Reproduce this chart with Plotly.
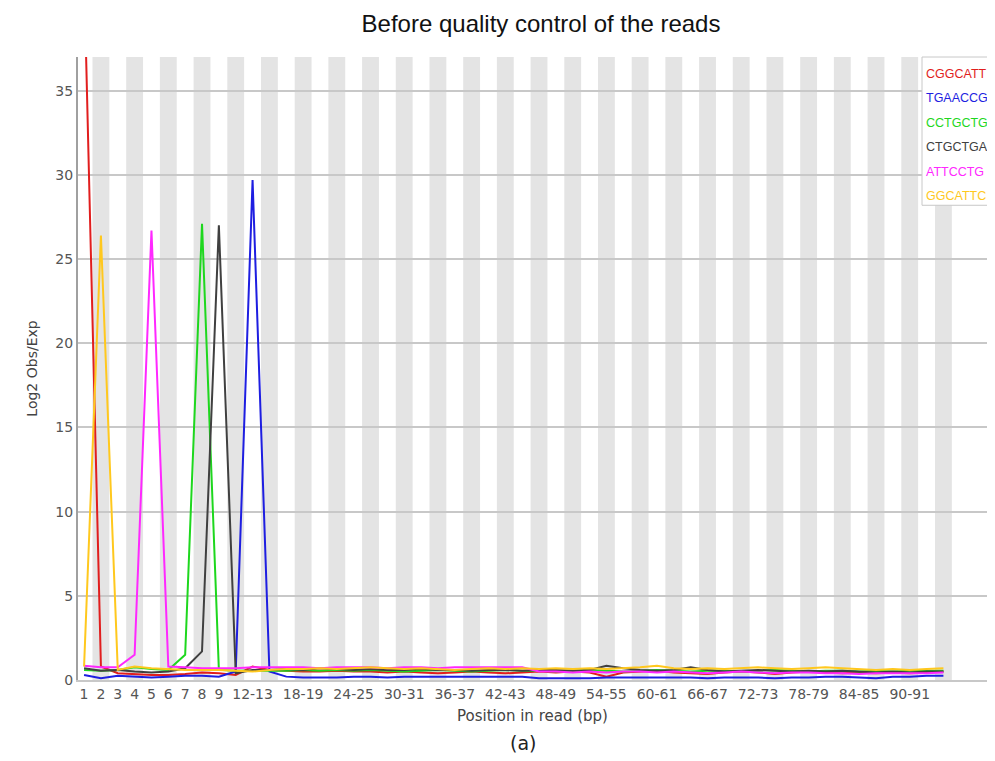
import plotly.graph_objects as go

# ---------------- data ----------------
positions = ["1", "2", "3", "4", "5", "6", "7", "8", "9"] + [f"{s}-{s+1}" for s in range(10, 96, 2)]

shown_ticks = ["1", "2", "3", "4", "5", "6", "7", "8", "9", "12-13", "18-19", "24-25", "30-31",
               "36-37", "42-43", "48-49", "54-55", "60-61", "66-67", "72-73", "78-79", "84-85", "90-91"]

kmer_names = ["CGGCATT", "TGAACCG", "CCTGCTG", "CTGCTGA", "ATTCCTG", "GGCATTC"]

cggcatt = [42.0, 0.8, 0.4, 0.35, 0.3, 0.3, 0.35, 0.45, 0.4, 0.3, 0.8, 0.6, 0.55, 0.5, 0.5, 0.55,
           0.5, 0.5, 0.45, 0.5, 0.45, 0.4, 0.45, 0.5, 0.45, 0.4, 0.45, 0.5, 0.45, 0.5, 0.45, 0.2,
           0.45, 0.5, 0.55, 0.45, 0.4, 0.35, 0.45, 0.5, 0.45, 0.35, 0.45, 0.5, 0.45, 0.4, 0.45, 0.4,
           0.45, 0.4, 0.45, 0.5]
tgaaccg = [0.3, 0.1, 0.25, 0.2, 0.15, 0.2, 0.25, 0.25, 0.2, 0.5, 29.7, 0.5, 0.2, 0.15, 0.15, 0.15,
           0.2, 0.2, 0.15, 0.2, 0.2, 0.2, 0.2, 0.2, 0.2, 0.2, 0.2, 0.1, 0.1, 0.1, 0.1, 0.15,
           0.15, 0.15, 0.15, 0.15, 0.15, 0.1, 0.15, 0.15, 0.15, 0.1, 0.15, 0.15, 0.2, 0.2, 0.15, 0.1,
           0.2, 0.2, 0.25, 0.25]
cctgctg = [0.6, 0.55, 0.6, 0.75, 0.65, 0.6, 1.5, 27.1, 0.6, 0.55, 0.55, 0.55, 0.55, 0.6, 0.55, 0.6,
           0.55, 0.6, 0.55, 0.5, 0.55, 0.6, 0.55, 0.5, 0.55, 0.6, 0.55, 0.55, 0.5, 0.55, 0.6, 0.55,
           0.5, 0.55, 0.6, 0.55, 0.5, 0.55, 0.55, 0.5, 0.55, 0.6, 0.55, 0.5, 0.55, 0.55, 0.5, 0.55,
           0.5, 0.55, 0.55, 0.55]
ctgctga = [0.7, 0.55, 0.6, 0.5, 0.45, 0.5, 0.7, 1.7, 27.0, 0.4, 0.6, 0.6, 0.65, 0.6, 0.7, 0.65,
           0.6, 0.65, 0.6, 0.6, 0.65, 0.6, 0.6, 0.55, 0.6, 0.6, 0.55, 0.6, 0.6, 0.55, 0.6, 0.85,
           0.7, 0.6, 0.55, 0.6, 0.75, 0.6, 0.5, 0.55, 0.6, 0.55, 0.5, 0.55, 0.5, 0.55, 0.5, 0.45,
           0.5, 0.45, 0.5, 0.5]
attcctg = [0.85, 0.75, 0.75, 1.5, 26.7, 0.8, 0.75, 0.7, 0.7, 0.7, 0.75, 0.75, 0.75, 0.75, 0.7, 0.75,
           0.75, 0.75, 0.7, 0.75, 0.75, 0.7, 0.75, 0.75, 0.75, 0.75, 0.75, 0.5, 0.5, 0.45, 0.5, 0.45,
           0.5, 0.5, 0.45, 0.5, 0.45, 0.4, 0.45, 0.5, 0.45, 0.4, 0.45, 0.45, 0.4, 0.4, 0.35, 0.4,
           0.4, 0.4, 0.4, 0.45]
ggcattc = [0.8, 26.4, 0.6, 0.8, 0.7, 0.65, 0.6, 0.6, 0.6, 0.55, 0.5, 0.6, 0.65, 0.65, 0.7, 0.65,
           0.7, 0.75, 0.7, 0.65, 0.7, 0.65, 0.6, 0.65, 0.7, 0.65, 0.7, 0.65, 0.7, 0.65, 0.7, 0.65,
           0.7, 0.75, 0.85, 0.7, 0.65, 0.7, 0.65, 0.7, 0.75, 0.7, 0.65, 0.7, 0.75, 0.7, 0.65, 0.6,
           0.65, 0.6, 0.65, 0.7]

series = [cggcatt, tgaaccg, cctgctg, ctgctga, attcctg, ggcattc]
colors = ["rgb(225,30,30)", "rgb(30,30,225)", "rgb(30,215,30)", "rgb(64,64,64)", "rgb(255,40,255)", "rgb(255,200,30)"]

# ---------------- figure ----------------
W, H = 979, 745
L, T, B = 70, 49, 73
plot_w = W - L

fig = go.Figure()
for name, vals, col in zip(kmer_names, series, colors):
    fig.add_trace(go.Scatter(x=positions, y=vals, mode="lines", name=name,
                             line=dict(color=col, width=2), showlegend=False))

shapes = []
for i in range(1, len(positions), 2):
    shapes.append(dict(type="rect", xref="x", yref="paper", x0=i - 0.5, x1=i + 0.5, y0=0, y1=1,
                       fillcolor="rgb(228,228,228)", line=dict(width=0), layer="below"))
# legend box
shapes.append(dict(type="rect", xref="paper", yref="paper", x0=(914 - L) / plot_w, x1=1.02,
                   y0=0.762, y1=1.0,
                   fillcolor="white", line=dict(color="rgb(200,200,200)", width=1), layer="above"))

annotations = []
for k, (name, col) in enumerate(zip(kmer_names, colors)):
    annotations.append(dict(xref="paper", yref="paper", x=(916 - L) / plot_w, y=0.9727 - k * 0.0392,
                            text=name, showarrow=False, xanchor="left", yanchor="middle",
                            font=dict(family="Liberation Sans", size=12.5, color=col)))
annotations.append(dict(xref="paper", yref="paper", x=(515 - L) / plot_w, y=-(743 - 680) / 623,
                        text="(a)", showarrow=False, xanchor="center", yanchor="middle",
                        font=dict(family="DejaVu Sans", size=19, color="#222")))

fig.update_layout(
    width=W, height=H,
    margin=dict(l=L, r=0, t=T, b=B),
    paper_bgcolor="white", plot_bgcolor="white",
    title=dict(text="Before quality control of the reads", x=533 / W, xanchor="center",
               y=1 - 16 / H, yanchor="middle", yref="container",
               font=dict(family="Liberation Sans", size=24, color="#111")),
    shapes=shapes, annotations=annotations,
    xaxis=dict(type="category", categoryorder="array", categoryarray=positions,
               range=[-0.36, -0.36 + plot_w / 16.85], tickvals=shown_ticks, ticktext=shown_ticks,
               showgrid=False, zeroline=False, showline=True, linecolor="rgb(200,200,200)", linewidth=2,
               ticks="", tickfont=dict(family="DejaVu Sans", size=14, color="#555"),
               title=dict(text="Position in read (bp)", standoff=10,
                          font=dict(family="DejaVu Sans", size=15, color="#444"))),
    yaxis=dict(range=[0, 37], tickvals=[0, 5, 10, 15, 20, 25, 30, 35],
               showgrid=True, gridcolor="rgb(200,200,200)", gridwidth=1.5, zeroline=False,
               showline=True, linecolor="rgb(160,160,160)", linewidth=2, ticks="",
               tickfont=dict(family="DejaVu Sans", size=14, color="#555"),
               title=dict(text="Log2 Obs/Exp", standoff=14,
                          font=dict(family="DejaVu Sans", size=14, color="#444"))),
)

fig.write_html("out.html")
